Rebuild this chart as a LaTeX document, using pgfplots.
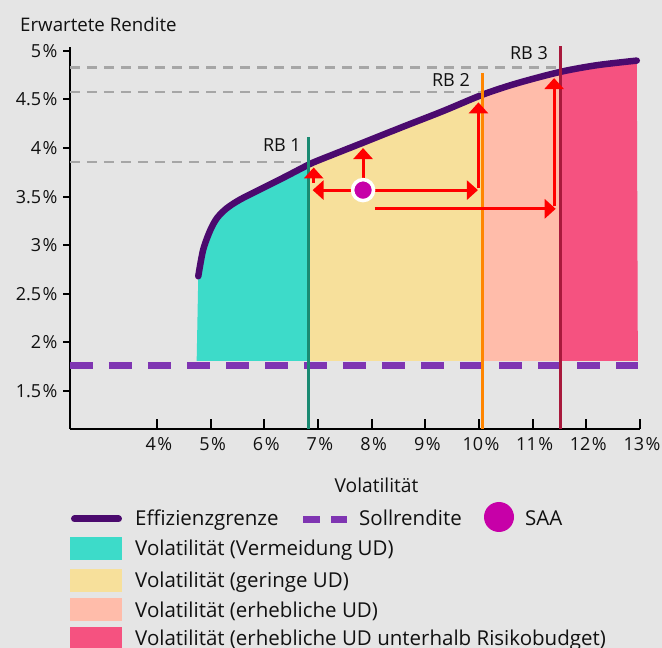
\documentclass[border=0pt]{standalone}
\usepackage{fontspec}
\setmainfont{Open Sans}
\usepackage{pgfplots}
\pgfplotsset{compat=1.18}
\usepgfplotslibrary{fillbetween}
\usetikzlibrary{arrows.meta}
\definecolor{bg}{HTML}{E5E5E5}
\definecolor{cteal}{HTML}{3DDBC9}
\definecolor{cyellow}{HTML}{F7E09B}
\definecolor{cpeach}{HTML}{FFBCAA}
\definecolor{cpink}{HTML}{F55280}
\definecolor{cfront}{HTML}{4B0A6E}
\definecolor{csoll}{HTML}{7F35B2}
\definecolor{csaa}{HTML}{C700A8}
\definecolor{crbone}{HTML}{1A8A72}
\definecolor{crbtwo}{HTML}{FF8500}
\definecolor{crbthree}{HTML}{A8193C}
\definecolor{cgrid}{HTML}{A6A6A6}
\definecolor{ctext}{HTML}{111111}
\begin{document}
\begin{tikzpicture}[x=1pt,y=1pt]
\begin{axis}[
  set layers,
  at={(0,0)}, anchor=south west,
  scale only axis, width=570pt, height=382pt,
  xmin=2.38, xmax=13, ymin=1.108, ymax=5.04,
  axis x line*=bottom, axis y line*=left,
  axis line style={line width=2pt, black},
  xtick={4,5,6,7,8,9,10,11,12,13},
  xticklabels={4\kern1.5pt\%,5\kern1.5pt\%,6\kern1.5pt\%,7\kern1.5pt\%,8\kern1.5pt\%,9\kern1.5pt\%,10\kern1.5pt\%,11\kern1.5pt\%,12\kern1.5pt\%,13\kern1.5pt\%},
  ytick={1.5,2,2.5,3,3.5,4,4.5,5},
  yticklabels={1.5\kern1.5pt\%,2\kern1.5pt\%,2.5\kern1.5pt\%,3\kern1.5pt\%,3.5\kern1.5pt\%,4\kern1.5pt\%,4.5\kern1.5pt\%,5\kern1.5pt\%},
  major tick length=0pt,
  tick style={draw=none},
  ticklabel style={font=\fontsize{18}{20}\selectfont, text=ctext},
  xticklabel style={yshift=-5pt, xshift=2pt},
  yticklabel style={xshift=-9pt},
  clip=false,
]
\begin{pgfonlayer}{axis background}
\fill[bg] ([xshift=-70pt,yshift=-219pt]rel axis cs:0,0) rectangle ([xshift=22pt,yshift=47pt]rel axis cs:1,1);
\end{pgfonlayer}
% manual tick marks
\pgfplotsinvokeforeach{4,5,6,7,8,9,10,11,12,13}{\draw[line width=2pt] (axis cs:#1,1.108) -- ++(0pt,10pt);}
\pgfplotsinvokeforeach{1.5,2,2.5,3,3.5,4,4.5,5}{\draw[line width=2pt] (axis cs:2.38,#1) -- ++(-7pt,0pt);}

% base line for fills
\addplot[name path=base, draw=none] coordinates {(4.74,1.81) (12.96,1.81)};
% efficient frontier
\addplot[name path=front, cfront, line width=6.5pt, line cap=round, smooth, tension=0.5] coordinates {
(4.77,2.68) (4.86,2.95) (4.99,3.15) (5.12,3.28) (5.30,3.38) (5.55,3.47) (5.98,3.59) (6.41,3.71) (6.83,3.83) (7.04,3.88) (7.84,4.055) (8.59,4.22) (9.33,4.38) (10.07,4.55) (10.70,4.665) (11.50,4.782) (12.19,4.852) (12.94,4.90)};

\addplot[fill=cteal, draw=none] fill between[of=front and base, soft clip={domain=4.6:6.83}];
\addplot[fill=cyellow, draw=none] fill between[of=front and base, soft clip={domain=6.83:10.07}];
\addplot[fill=cpeach, draw=none] fill between[of=front and base, soft clip={domain=10.07:11.52}];
\addplot[fill=cpink, draw=none] fill between[of=front and base, soft clip={domain=11.52:13.1}];

% Sollrendite
\addplot[csoll, line width=7pt, dash pattern=on 23.3pt off 15.7pt] coordinates {(2.38,1.76) (12.96,1.76)};

% grey dashed guide lines
\addplot[cgrid, line width=2.5pt, dash pattern=on 10pt off 7pt] coordinates {(2.38,3.855) (6.83,3.855)};
\addplot[cgrid, line width=2.5pt, dash pattern=on 10pt off 7pt] coordinates {(2.38,4.575) (10.07,4.575)};
\addplot[cgrid, line width=2.5pt, dash pattern=on 10pt off 7pt] coordinates {(2.38,4.83) (11.52,4.83)};

% risk budget lines
\addplot[crbone, line width=3pt] coordinates {(6.83,1.108) (6.83,4.11)};
\addplot[crbtwo, line width=3pt] coordinates {(10.07,1.108) (10.07,4.77)};
\addplot[crbthree, line width=3pt] coordinates {(11.52,1.108) (11.52,5.05)};

\node[anchor=east, inner sep=0pt, font=\fontsize{18}{20}\selectfont, text=ctext] at (axis cs:6.684,4.032) {RB 1};
\node[anchor=east, inner sep=0pt, font=\fontsize{18}{20}\selectfont, text=ctext] at (axis cs:9.833,4.70) {RB 2};
\node[anchor=east, inner sep=0pt, font=\fontsize{18}{20}\selectfont, text=ctext] at (axis cs:11.286,4.976) {RB 3};

% red arrows
\pgfplotsset{redarrow/.style={red, line width=3pt, -{Triangle[width=19pt,length=11pt]}}}
\addplot[redarrow] coordinates {(7.84,3.567) (7.84,4.0)};
\addplot[redarrow] coordinates {(7.84,3.567) (6.90,3.567)};
\addplot[redarrow] coordinates {(6.92,3.64) (6.92,3.80)};
\addplot[redarrow] coordinates {(7.84,3.567) (9.98,3.567)};
\addplot[redarrow] coordinates {(9.99,3.585) (9.99,4.47)};
\addplot[redarrow] coordinates {(8.06,3.374) (11.43,3.374)};
\addplot[redarrow] coordinates {(11.40,3.40) (11.40,4.72)};

% SAA
\addplot[only marks, mark=*, mark size=10.5pt, mark options={fill=csaa, draw=white, line width=3.5pt}] coordinates {(7.84,3.567)};
\end{axis}

% titles
\node[anchor=base west, inner sep=0pt, font=\fontsize{18.7}{22}\selectfont, text=ctext] at (-50,397) {Erwartete Rendite};
\node[anchor=base, inner sep=0pt, font=\fontsize{19.2}{22}\selectfont, text=ctext] at (306.5,-64) {Volatilität};

% legend
\begin{scope}[every node/.style={anchor=base west, inner sep=0pt, font=\fontsize{20.5}{24}\selectfont, text=ctext}]
\draw[cfront, line width=7pt, line cap=round] (4.5,-90) -- (48.5,-90);
\node at (65,-97) {Effizienzgrenze};
\fill[csoll] (233,-87) rectangle (250,-94);
\fill[csoll] (261,-87) rectangle (277,-94);
\node at (289,-97) {Sollrendite};
\fill[csaa] (429,-88) circle (15);
\node at (455,-97) {SAA};
\fill[cteal] (0,-108) rectangle (52,-131);
\node at (65,-127) {Volatilität (Vermeidung UD)};
\fill[cyellow] (0,-140) rectangle (52,-163);
\node at (65,-159) {Volatilität (geringe UD)};
\fill[cpeach] (0,-169) rectangle (52,-192);
\node at (65,-188) {Volatilität (erhebliche UD)};
\fill[cpink] (0,-198) rectangle (52,-221);
\node at (65,-216) {Volatilität (erhebliche UD unterhalb Risikobudget)};
\end{scope}

\pgfresetboundingbox
\path[use as bounding box] (-70,-219) rectangle (592,429);
\end{tikzpicture}
\end{document}
